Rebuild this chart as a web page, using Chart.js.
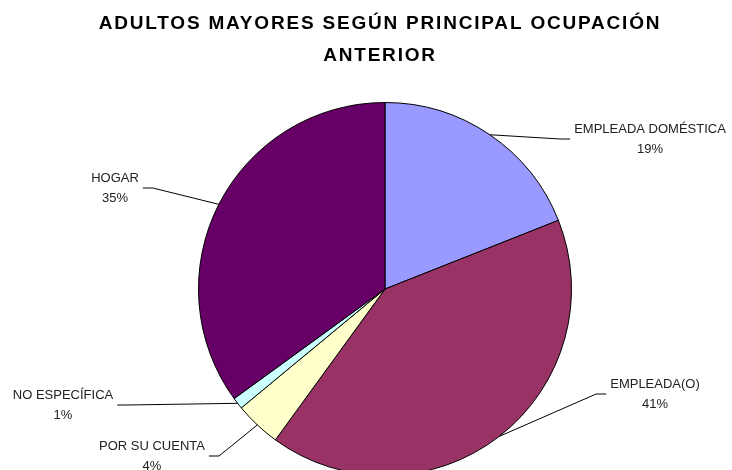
<!DOCTYPE html>
<html>
<head>
<meta charset="utf-8">
<script src="https://cdn.jsdelivr.net/npm/chart.js@4"></script>
<style>
  html, body { margin: 0; padding: 0; background: #fff; overflow: hidden; }
  #wrap { width: 732px; height: 480px; }
</style>
</head>
<body>
<div id="wrap"><canvas id="chart" width="732" height="480"></canvas></div>
<script>
// data
const titleLines = ["ADULTOS MAYORES SEGÚN PRINCIPAL OCUPACIÓN", "ANTERIOR"];
const categories = ["EMPLEADA DOMÉSTICA", "EMPLEADA(O)", "POR SU CUENTA", "NO ESPECÍFICA", "HOGAR"];
const percents = [19, 41, 4, 1, 35];

// styling
const sliceColors = ["#9999FF", "#993366", "#FFFFCC", "#CCFFFF", "#660066"];
// where each label block sits, relative to the pie centre (px)
const labelOffsets = [[265, -150], [270, 105], [-233, 167], [-322, 116], [-270, -101]];

const titlePlugin = {
  id: "titleText",
  afterDraw(chart) {
    const ctx = chart.ctx;
    ctx.save();
    ctx.font = "bold 19px 'Liberation Sans', Arial, sans-serif";
    ctx.letterSpacing = "1.8px";
    ctx.fillStyle = "#000";
    ctx.textAlign = "center";
    ctx.textBaseline = "middle";
    ctx.fillText(titleLines[0], 380, 24);
    ctx.fillText(titleLines[1], 380, 56);
    ctx.restore();
  }
};

const labelPlugin = {
  id: "pieLabels",
  afterDatasetsDraw(chart) {
    const ctx = chart.ctx;
    const arcs = chart.getDatasetMeta(0).data;
    ctx.save();
    ctx.font = "13px 'Liberation Sans', Arial, sans-serif";
    ctx.textBaseline = "middle";
    arcs.forEach((arc, i) => {
      const p = arc.getProps(["x", "y", "startAngle", "endAngle", "outerRadius"], true);
      const mid = (p.startAngle + p.endAngle) / 2;
      const ex = p.x + Math.cos(mid) * p.outerRadius;
      const ey = p.y + Math.sin(mid) * p.outerRadius;
      const cx = p.x + labelOffsets[i][0];
      const cy = p.y + labelOffsets[i][1];
      const line1 = categories[i];
      const line2 = percents[i] + "%";
      const w = ctx.measureText(line1).width;
      const rightSide = labelOffsets[i][0] > 0;
      const tx = rightSide ? cx - w / 2 - 4 : cx + w / 2 + 4;
      const kx = rightSide ? tx - 10 : tx + 10;

      ctx.strokeStyle = "#000";
      ctx.lineWidth = 1;
      ctx.beginPath();
      ctx.moveTo(ex, ey);
      ctx.lineTo(kx, cy);
      ctx.lineTo(tx, cy);
      ctx.stroke();

      ctx.fillStyle = "#222";
      ctx.textAlign = "center";
      ctx.fillText(line1, cx, cy - 10);
      ctx.fillText(line2, cx, cy + 10);
    });
    ctx.restore();
  }
};

new Chart(document.getElementById("chart"), {
  type: "pie",
  data: {
    labels: categories,
    datasets: [{
      data: percents,
      backgroundColor: sliceColors,
      borderColor: "#000",
      borderWidth: 1,
      hoverOffset: 0
    }]
  },
  options: {
    responsive: false,
    animation: false,
    layout: { padding: { top: 102, left: 198, right: 160, bottom: 4 } },
    plugins: {
      legend: { display: false },
      tooltip: { enabled: false },
      title: { display: false }
    },
    events: []
  },
  plugins: [labelPlugin, titlePlugin]
});
</script>
</body>
</html>
